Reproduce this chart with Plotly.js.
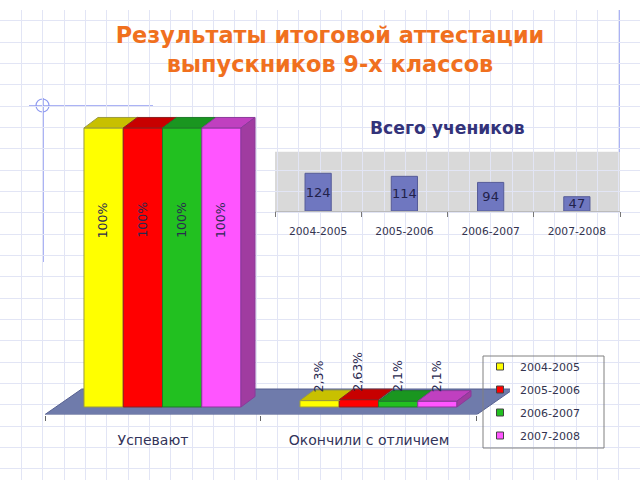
<!DOCTYPE html>
<html><head><meta charset="utf-8">
<script src="https://cdn.plot.ly/plotly-3.0.1.min.js"></script>
<style>html,body{margin:0;padding:0;background:#fff}#c{width:640px;height:480px}</style>
</head><body><div id="c"></div>
<script>
// ---- data ----
const years = ['2004-2005','2005-2006','2006-2007','2007-2008'];
const groups = ['Успевают','Окончили с отличием'];
const results = [[100,2.3],[100,2.63],[100,2.1],[100,2.1]];
const resultLabels = [['100%','2,3%'],['100%','2,63%'],['100%','2,1%'],['100%','2,1%']];
const pupils = [124,114,94,47];
// ---- style ----
const frontColors = ['#ffff00','#ff0000','#22c020','#ff55ff'];
const topColors = ['#c8c000','#c80000','#1a9620','#c040c0'];
const edgeColors = ['#9a9a40','#8a2020','#1f7a2a','#8a3a9a'];
const sideColor = '#a03ca0';
const font = 'DejaVu Sans, Verdana, sans-serif';
const W = 640, H = 480;
const gap3d = 0.273, barW = (1 - gap3d) / 4, shift3d = 0.044;
const dx = 0.065, dy = 3.76, floorDepth = 6.45, floorDx = 0.17;
const xMin3d = -0.5, xMax3d = 1.653, yMin3d = -2.69, yMax3d = 105;

const traces = [], shapes = [], annotations = [];
// main 3D-looking bars
years.forEach((yr, i) => {
  const off = -(1-gap3d)/2 + shift3d + i*barW;
  traces.push({type:'bar', name:yr, x:groups, y:results[i], xaxis:'x2', yaxis:'y2', showlegend:false,
    offset:off, width:barW,
    marker:{color:frontColors[i], line:{color:edgeColors[i], width:1}}, hoverinfo:'skip'});
  groups.forEach((g, j) => {
    const v = results[i][j];
    const x0 = j + off, x1 = x0 + barW;
    shapes.push({type:'path', xref:'x2', yref:'y2', layer:'above',
      path:`M${x0},${v}L${x1},${v}L${x1+dx},${v+dy}L${x0+dx},${v+dy}Z`,
      fillcolor:topColors[i], line:{color:edgeColors[i], width:1}});
    if (i === years.length-1) shapes.push({type:'path', xref:'x2', yref:'y2', layer:'above',
      path:`M${x1},0L${x1+dx},${dy}L${x1+dx},${v+dy}L${x1},${v}Z`,
      fillcolor:sideColor, line:{color:edgeColors[i], width:1}});
    annotations.push({xref:'x2', yref:'y2', x:x0+barW/2-0.006, y:j===0 ? v-33 : 4.6,
      yanchor:j===0?'middle':'bottom', text:resultLabels[i][j], textangle:-90, showarrow:false,
      font:{family:font,size:12.5,color:'#2a2a50'}});
  });
});
// floor
shapes.unshift({type:'path', xref:'x2', yref:'y2', layer:'below',
  path:`M${xMin3d},${yMin3d}L1.5,${yMin3d}L${1.5+floorDx},${floorDepth}L${-0.5+floorDx},${floorDepth}Z`,
  fillcolor:'#6f7bab', line:{color:'#566090', width:1}});
// pupils panel
shapes.unshift({type:'rect', xref:'x3 domain', yref:'y3 domain', layer:'below', x0:0, x1:1, y0:0, y1:1,
  fillcolor:'#d9d9d9', line:{width:0}});
traces.push({type:'bar', x:years, y:pupils, xaxis:'x3', yaxis:'y3', showlegend:false, width:0.304,
  marker:{color:'#6f77c0', line:{color:'#565c98', width:1}},
  text:pupils.map(String), textposition:'inside', insidetextanchor:'middle', textangle:0, constraintext:'none',
  insidetextfont:{family:font,size:13,color:'#22224a'}, hoverinfo:'skip'});
// legend entries
years.forEach((yr, i) => traces.push({type:'scatter', mode:'markers', name:yr, legendgroup:yr,
  x:[null], y:[null], xaxis:'x', yaxis:'y',
  marker:{symbol:'square', size:7, color:frontColors[i], line:{color:'#444', width:1}}}));
// legend frame
shapes.push({type:'rect',xref:'paper',yref:'paper',layer:'above',x0:483/W,x1:604/W,y0:1-448/H,y1:1-356/H,line:{color:'#808080',width:1}});
// decorative sheet lines
const deco = '#8f9af0';
shapes.push({type:'line',xref:'x',yref:'y',layer:'below',x0:29,x1:153,y0:106,y1:106,line:{color:deco,width:1.5}});
shapes.push({type:'line',xref:'x',yref:'y',layer:'below',x0:43,x1:43,y0:98,y1:262,line:{color:deco,width:1.5}});
shapes.push({type:'circle',xref:'x',yref:'y',layer:'below',x0:36,x1:49,y0:99,y1:112,line:{color:deco,width:1.2}});
shapes.push({type:'line',xref:'x',yref:'y',layer:'below',x0:619,x1:619,y0:10,y1:152,line:{color:deco,width:1.5}});

annotations.push({xref:'x3 domain', yref:'paper', x:0.5, y:1-128/H, yanchor:'middle', showarrow:false,
  text:'<b>Всего учеников</b>', font:{family:font,size:17.2,color:'#33337a'}});

const layout = {
  width:W, height:H, margin:{l:0,r:0,t:0,b:0}, paper_bgcolor:'#fff', plot_bgcolor:'rgba(0,0,0,0)',
  title:{text:'<b>Результаты итоговой аттестации<br>выпускников 9-х классов</b>', x:330/W, xanchor:'center',
    y:1-43/H, yanchor:'top', font:{family:font,size:22.4,color:'#f0701e'}},
  barmode:'overlay', showlegend:true,
  legend:{x:480/W, xanchor:'left', y:1-352/H, yanchor:'top', bgcolor:'rgba(0,0,0,0)', borderwidth:0,
    tracegroupgap:4, font:{family:font,size:11,color:'#33334f'}},
  xaxis:{domain:[0,1], range:[0,W], tick0:0, dtick:64/3, showgrid:true, gridcolor:'#e2e5f5', gridwidth:1, zeroline:false, showticklabels:false, ticks:'', fixedrange:true},
  yaxis:{domain:[0,1-10/H], range:[H,10], tick0:106-4*64/3, dtick:64/3, showgrid:true, gridcolor:'#e2e5f5', gridwidth:1, zeroline:false, showticklabels:false, ticks:'', fixedrange:true},
  xaxis2:{type:'category', anchor:'y2', domain:[45/W,510/W], range:[xMin3d,xMax3d], tickson:'boundaries', ticks:'outside', ticklen:5, tickcolor:'#666', showgrid:false, showline:false, zeroline:false,
    ticklabelstandoff:15, tickfont:{family:font,size:14,color:'#33335a'}},
  yaxis2:{anchor:'x2', domain:[1-414.5/H,1-114/H], range:[yMin3d,yMax3d], visible:false, showgrid:false, zeroline:false},
  xaxis3:{type:'category', anchor:'y3', domain:[275/W,620/W], tickson:'boundaries', ticks:'outside', ticklen:5, tickcolor:'#777', showgrid:false, showline:true, linecolor:'#bbb', zeroline:false,
    ticklabelstandoff:10, tickfont:{family:font,size:10.7,color:'#33334f'}},
  yaxis3:{anchor:'x3', domain:[1-211/H,1-151.7/H], range:[0,195], visible:false, showgrid:false, zeroline:false},
  shapes, annotations
};
Plotly.newPlot('c', traces, layout, {displayModeBar:false, staticPlot:true});
</script></body></html>
